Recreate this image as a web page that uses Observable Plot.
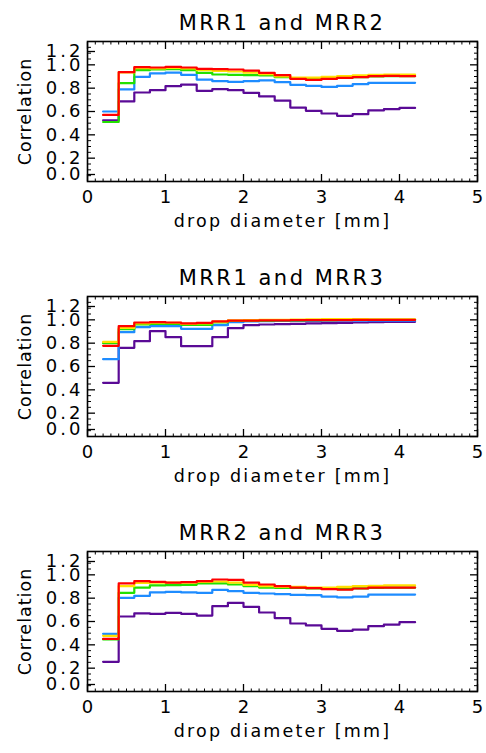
<!DOCTYPE html>
<html>
<head>
<meta charset="utf-8">
<script src="https://cdn.jsdelivr.net/npm/d3@7"></script>
<script src="https://cdn.jsdelivr.net/npm/@observablehq/plot@0.6"></script>
<style>
  body { margin: 0; background: #fff; width: 486px; height: 753px; overflow: hidden; position: relative; font-family: "DejaVu Sans", sans-serif; }
  .panel { position: absolute; left: 0; width: 486px; height: 255px; }
  .title { position: absolute; top: 0; left: 87px; width: 390px; height: 46px; line-height: 46px; text-align: center; font-size: 21px; letter-spacing: 2.5px; color: #000; }
  .plotwrap { position: absolute; top: 30px; left: 0; }
  svg text { font-family: "DejaVu Sans", sans-serif; fill: #000; }
  g[aria-label="x-axis tick label"] text { font-size: 18px; }
  g[aria-label="y-axis tick label"] text { font-size: 18px; letter-spacing: 3px; }
  g[aria-label="x-axis label"] text { font-size: 17.5px; letter-spacing: 2.2px; }
  g[aria-label="y-axis label"] text { font-size: 17.5px; letter-spacing: 1px; }
</style>
</head>
<body>
<script>
// Bin edges of drop diameter [mm]
const binEdges = [0.2, 0.4, 0.6, 0.8, 1.0, 1.2, 1.4, 1.6, 1.8, 2.0, 2.2, 2.4, 2.6, 2.8, 3.0, 3.2, 3.4, 3.6, 3.8, 4.0, 4.2];

const panelTitles = ["MRR1 and MRR2", "MRR1 and MRR3", "MRR2 and MRR3"];
const seriesNames = ["purple", "blue", "green", "yellow", "red"];
const seriesColors = ["#5a0a96", "#1e8cff", "#22e000", "#ffe000", "#ff0000"];

// Panel 1: MRR1 and MRR2
const p1Purple = [0.525, 0.686, 0.763, 0.783, 0.817, 0.831, 0.777, 0.791, 0.783, 0.760, 0.729, 0.694, 0.634, 0.606, 0.583, 0.563, 0.577, 0.609, 0.620, 0.631];
const p1Blue   = [0.600, 0.789, 0.897, 0.926, 0.934, 0.914, 0.874, 0.860, 0.854, 0.860, 0.866, 0.851, 0.829, 0.820, 0.811, 0.820, 0.834, 0.846, 0.846, 0.846];
const p1Green  = [0.510, 0.843, 0.954, 0.960, 0.963, 0.954, 0.931, 0.917, 0.914, 0.911, 0.909, 0.894, 0.884, 0.880, 0.884, 0.889, 0.894, 0.900, 0.904, 0.904];
const p1Yellow = [0.570, 0.935, 0.971, 0.969, 0.974, 0.969, 0.954, 0.949, 0.943, 0.934, 0.920, 0.900, 0.891, 0.891, 0.897, 0.903, 0.909, 0.914, 0.917, 0.917];
const p1Red    = [0.571, 0.937, 0.980, 0.977, 0.983, 0.977, 0.966, 0.963, 0.960, 0.951, 0.931, 0.911, 0.880, 0.871, 0.880, 0.889, 0.894, 0.903, 0.906, 0.903];

// Panel 2: MRR1 and MRR3
const p2Purple = [0.460, 0.760, 0.817, 0.903, 0.851, 0.774, 0.774, 0.851, 0.929, 0.954, 0.960, 0.963, 0.966, 0.969, 0.971, 0.974, 0.977, 0.980, 0.983, 0.983];
const p2Blue   = [0.663, 0.894, 0.937, 0.946, 0.946, 0.923, 0.923, 0.954, 0.980, 0.986, 0.989, 0.990, 0.991, 0.991, 0.992, 0.992, 0.992, 0.993, 0.993, 0.993];
const p2Green  = [0.800, 0.920, 0.960, 0.966, 0.966, 0.957, 0.957, 0.977, 0.990, 0.992, 0.994, 0.995, 0.996, 0.997, 0.998, 0.999, 1.000, 1.000, 1.000, 1.000];
const p2Yellow = [0.811, 0.930, 0.970, 0.975, 0.975, 0.965, 0.970, 0.985, 0.995, 0.997, 0.999, 1.000, 1.002, 1.004, 1.006, 1.006, 1.006, 1.005, 1.004, 1.004];
const p2Red    = [0.777, 0.946, 0.977, 0.980, 0.977, 0.969, 0.974, 0.986, 0.994, 0.994, 0.995, 0.996, 0.997, 0.997, 0.998, 0.998, 0.999, 0.999, 1.000, 1.000];

// Panel 3: MRR2 and MRR3
const p3Purple = [0.254, 0.643, 0.669, 0.666, 0.674, 0.666, 0.651, 0.731, 0.760, 0.726, 0.677, 0.629, 0.583, 0.566, 0.537, 0.520, 0.531, 0.560, 0.574, 0.594];
const p3Blue   = [0.494, 0.803, 0.820, 0.849, 0.854, 0.849, 0.846, 0.871, 0.860, 0.846, 0.840, 0.834, 0.829, 0.826, 0.814, 0.806, 0.814, 0.831, 0.831, 0.831];
const p3Green  = [0.446, 0.846, 0.891, 0.909, 0.911, 0.914, 0.926, 0.926, 0.917, 0.903, 0.891, 0.889, 0.889, 0.884, 0.880, 0.878, 0.884, 0.889, 0.890, 0.890];
const p3Yellow = [0.477, 0.903, 0.931, 0.934, 0.934, 0.934, 0.940, 0.943, 0.934, 0.914, 0.903, 0.897, 0.897, 0.891, 0.891, 0.897, 0.903, 0.906, 0.909, 0.909];
const p3Red    = [0.451, 0.926, 0.946, 0.940, 0.934, 0.937, 0.946, 0.960, 0.957, 0.934, 0.917, 0.903, 0.891, 0.886, 0.877, 0.874, 0.883, 0.891, 0.891, 0.891];

const xTicks = [0, 1, 2, 3, 4, 5];
const xMinorTicks = [0.1,0.2,0.3,0.4,0.5,0.6,0.7,0.8,0.9,1.1,1.2,1.3,1.4,1.5,1.6,1.7,1.8,1.9,2.1,2.2,2.3,2.4,2.5,2.6,2.7,2.8,2.9,3.1,3.2,3.3,3.4,3.5,3.6,3.7,3.8,3.9,4.1,4.2,4.3,4.4,4.5,4.6,4.7,4.8,4.9];
const yTicks = [0.2, 0.4, 0.6, 0.8, 1.0];
const yEdgeTicksTop = [1.2];
const yEdgeTicksBottom = [0.0];
const yMinorTicks = [0.05,0.1,0.15,0.25,0.3,0.35,0.45,0.5,0.55,0.65,0.7,0.75,0.85,0.9,0.95,1.05,1.1,1.15];

const panels = [
  [p1Purple, p1Blue, p1Green, p1Yellow, p1Red],
  [p2Purple, p2Blue, p2Green, p2Yellow, p2Red],
  [p3Purple, p3Blue, p3Green, p3Yellow, p3Red]
];

function stepRows(values, name) {
  const rows = values.map((v, i) => ({x: binEdges[i], y: v, s: name}));
  rows.push({x: binEdges[values.length], y: values[values.length - 1], s: name});
  return rows;
}

const blank = () => "";

panels.forEach((series, pi) => {
  const panel = document.createElement("div");
  panel.className = "panel";
  panel.style.top = (pi * 255) + "px";
  const title = document.createElement("div");
  title.className = "title";
  title.textContent = panelTitles[pi];
  panel.appendChild(title);

  const marks = [
    // bottom axis: major ticks inward + labels
    Plot.axisX({anchor: "bottom", ticks: xTicks, tickSize: -7, tickPadding: 7 + 9, tickFormat: d3.format("d"), strokeWidth: 1.3,
      label: "drop diameter [mm]", labelAnchor: "center", labelArrow: "none", labelOffset: 45}),
    Plot.axisX({anchor: "bottom", ticks: xMinorTicks, tickSize: -2.5, tickFormat: blank, label: null}),
    // top axis ticks
    Plot.axisX({anchor: "top", ticks: xTicks, tickSize: -7, tickFormat: blank, label: null, strokeWidth: 1.3}),
    Plot.axisX({anchor: "top", ticks: xMinorTicks, tickSize: -2.5, tickFormat: blank, label: null}),
    // left axis
    Plot.axisY({anchor: "left", ticks: yTicks, tickSize: -8, tickPadding: 8 + 4, tickFormat: d3.format(".1f"), strokeWidth: 1.3,
      label: "Correlation", labelAnchor: "center", labelArrow: "none", labelOffset: 69}),
    Plot.axisY({anchor: "left", ticks: yEdgeTicksTop, tickSize: -8, tickPadding: 12, dy: 10, tickFormat: d3.format(".1f"), label: null, strokeWidth: 1.3}),
    Plot.axisY({anchor: "left", ticks: yEdgeTicksBottom, tickSize: -8, tickPadding: 12, dy: -7, tickFormat: d3.format(".1f"), label: null, strokeWidth: 1.3}),
    Plot.axisY({anchor: "left", ticks: yMinorTicks, tickSize: -4, tickFormat: blank, label: null}),
    // right axis
    Plot.axisY({anchor: "right", ticks: yTicks.concat(yEdgeTicksTop, yEdgeTicksBottom), tickSize: -8, tickFormat: blank, label: null, strokeWidth: 1.3}),
    Plot.axisY({anchor: "right", ticks: yMinorTicks, tickSize: -4, tickFormat: blank, label: null}),
    Plot.frame({stroke: "#000", strokeWidth: 1.6})
  ];
  series.forEach((vals, si) => {
    marks.push(Plot.lineY(stepRows(vals, seriesNames[si]), {x: "x", y: "y", curve: "step-after", stroke: seriesColors[si], strokeWidth: 2.2}));
  });

  const svg = Plot.plot({
    width: 486,
    height: 225,
    marginLeft: 87,
    marginRight: 9,
    marginTop: 11,
    marginBottom: 74,
    style: {fontFamily: "DejaVu Sans", fontSize: "17px", color: "#000", background: "transparent", overflow: "visible"},
    x: {domain: [0, 5]},
    y: {domain: [0, 1.2]},
    marks
  });
  const wrap = document.createElement("div");
  wrap.className = "plotwrap";
  wrap.appendChild(svg);
  panel.appendChild(wrap);
  document.body.appendChild(panel);
});
</script>
</body>
</html>
